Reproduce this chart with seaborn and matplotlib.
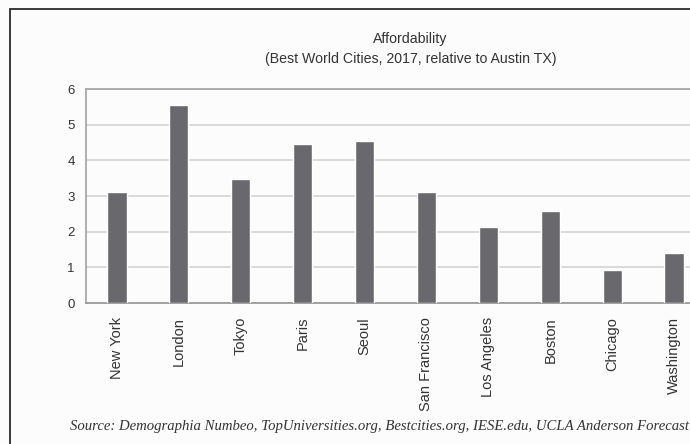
import matplotlib
matplotlib.use("Agg")
import matplotlib.pyplot as plt
import seaborn as sns
import pandas as pd
from matplotlib.patches import Rectangle

cities = ["New York", "London", "Tokyo", "Paris", "Seoul", "San Francisco",
          "Los Angeles", "Boston", "Chicago", "Washington"]
values = [3.1, 5.55, 3.47, 4.46, 4.55, 3.1, 2.12, 2.59, 0.92, 1.39]
yticks = [0, 1, 2, 3, 4, 5, 6]
title = "Affordability"
subtitle = "(Best World Cities, 2017, relative to Austin TX)"
source = "Source: Demographia Numbeo, TopUniversities.org, Bestcities.org, IESE.edu, UCLA Anderson Forecast"

sns.set_style("white")
plt.rcParams['font.family'] = ['Liberation Sans', 'DejaVu Sans']

df = pd.DataFrame({"city": cities, "value": values})

W, H = 690, 444
fig = plt.figure(figsize=(W / 100, H / 100), dpi=100)
fig.patch.set_facecolor("#fcfcfc")
ax = fig.add_axes([86 / W, 1 - 303 / H, (705 - 86) / W, (303 - 89) / H])
ax.set_facecolor("#fcfcfc")

sns.barplot(data=df, x="city", y="value", color="#69696d", saturation=1,
            width=0.31, ax=ax, zorder=3)

ax.set_ylim(0, 6)
ax.set_xlim(-0.5, len(cities) - 0.5)
ax.set_yticks(yticks)
ax.yaxis.grid(True, color="#d4d4d4", lw=1.2, zorder=0)
ax.set_axisbelow(True)
for s in ax.spines.values():
    s.set_color("#a8a8a8")
    s.set_linewidth(1.3)
ax.spines["bottom"].set_color("#9a9a9a")
ax.set_xlabel("")
ax.set_ylabel("")
ax.tick_params(axis="y", length=0, pad=8, labelsize=9.5, labelcolor="#333333")
ax.tick_params(axis="x", length=0, pad=10, labelsize=10.5, labelcolor="#333333")
for lab in ax.get_xticklabels():
    lab.set_rotation(90)

fig.text(410 / W, 1 - 39 / H, title, ha="center", va="center",
         fontsize=10.2, color="#333333")
fig.text(411 / W, 1 - 59 / H, subtitle, ha="center", va="center",
         fontsize=10.2, color="#333333")
fig.text(689 / W, 1 - 426 / H, source, ha="right", va="center",
         fontsize=10.6, style="italic", family="Liberation Serif", color="#333333")

fig.patches.append(Rectangle((10 / W, -0.1), 1.2, (1 - 9.5 / H) + 0.1,
                             transform=fig.transFigure, fill=False,
                             edgecolor="#2a2a2a", lw=1.3))

fig.savefig("out.png", dpi=100, facecolor=fig.get_facecolor())
